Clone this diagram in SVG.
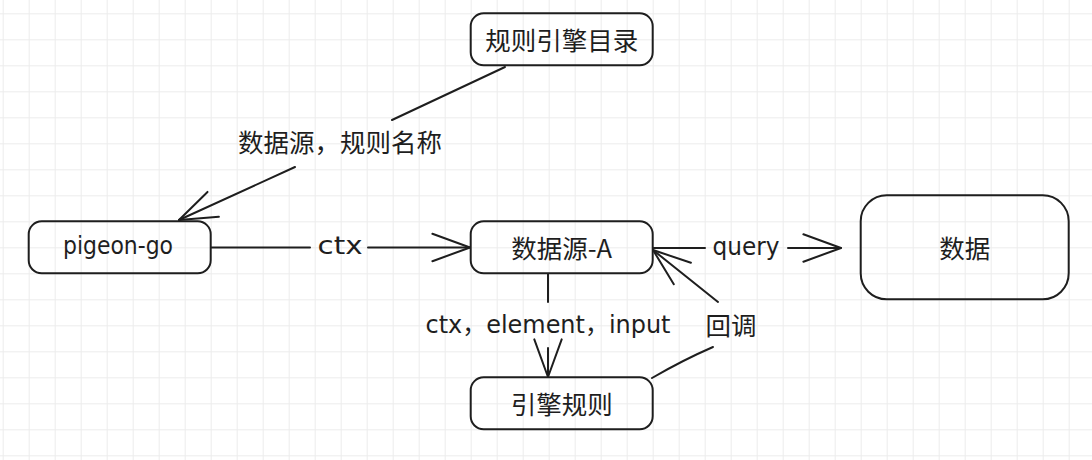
<svg xmlns="http://www.w3.org/2000/svg" width="1092" height="460" viewBox="0 0 1092 460">
<style>
.box{fill:none;stroke:#1e1e1e;stroke-width:2}
.edge{fill:none;stroke:#1e1e1e;stroke-width:2;stroke-linecap:round}
.cjk{font-family:"Noto Sans CJK SC","Noto Sans",sans-serif;font-size:25.5px;fill:#1e1e1e;text-anchor:middle;dominant-baseline:central}
.hand{font-family:"DejaVu Sans","Noto Sans CJK SC",sans-serif;font-size:24px;fill:#1e1e1e;text-anchor:middle;dominant-baseline:central}
</style>
<defs>
<pattern id="grid" patternUnits="userSpaceOnUse" x="2.7" y="13.3" width="26" height="26">
<path d="M0,0.5 H26 M0.5,0 V26" fill="none" stroke="#ececec" stroke-width="1"/>
</pattern>
<marker id="ah" markerUnits="userSpaceOnUse" viewBox="-45 -20 50 40" markerWidth="50" markerHeight="40" refX="0" refY="0" orient="auto" overflow="visible">
<path d="M-37.6,-13.7 L0,0 L-37.6,13.7" fill="none" stroke="#1e1e1e" stroke-width="2" stroke-linecap="round" stroke-linejoin="round"/>
</marker>
</defs>
<rect width="1092" height="460" fill="#ffffff"/>
<rect width="1092" height="460" fill="url(#grid)"/>

<g id="connectors">
<g id="e-catalog-pigeon">
<path class="edge" d="M505,67 L392,120"/>
<path class="edge" d="M295,167 L179,220" marker-end="url(#ah)"/>
<text class="cjk" x="340" y="140">数据源，规则名称</text>
</g>
<g id="e-pigeon-source">
<path class="edge" d="M211,247.5 L310,247.5"/>
<path class="edge" d="M368,247.5 L470,247.5" marker-end="url(#ah)"/>
<text class="hand" x="340" y="246" textLength="45" lengthAdjust="spacingAndGlyphs">ctx</text>
</g>
<g id="e-source-data">
<path class="edge" d="M653,248 L705,248"/>
<path class="edge" d="M788,248 L841,248" marker-end="url(#ah)"/>
<text class="hand" x="746" y="247" textLength="67" lengthAdjust="spacingAndGlyphs">query</text>
</g>
<g id="e-source-rule">
<path class="edge" d="M548,274 L548,302"/>
<path class="edge" d="M548,348 L548,377" marker-end="url(#ah)"/>
<text class="hand" x="548" y="325" textLength="245" lengthAdjust="spacingAndGlyphs">ctx，element，input</text>
</g>
<g id="e-rule-source">
<path class="edge" d="M652,378 Q683,360 713,347"/>
<path class="edge" d="M718,302 L653,250" marker-end="url(#ah)"/>
<text class="cjk" x="731" y="323">回调</text>
</g>
</g>

<g id="node-catalog">
<rect class="box" x="470.7" y="13.3" width="182" height="52" rx="13"/>
<text class="cjk" x="561.7" y="38.5">规则引擎目录</text>
</g>
<g id="node-pigeon">
<rect class="box" x="28.7" y="221.3" width="182" height="52" rx="13"/>
<text class="hand" x="118" y="246" textLength="110" lengthAdjust="spacingAndGlyphs">pigeon-go</text>
</g>
<g id="node-source">
<rect class="box" x="470.7" y="221.3" width="182" height="52" rx="13"/>
<text class="cjk" x="561.7" y="246.5">数据源-A</text>
</g>
<g id="node-rule">
<rect class="box" x="470.7" y="377.3" width="182" height="52" rx="13"/>
<text class="cjk" x="561.7" y="402.5">引擎规则</text>
</g>
<g id="node-data">
<rect class="box" x="860.7" y="195.3" width="208" height="104" rx="26"/>
<text class="cjk" x="964.7" y="246.5">数据</text>
</g>
</svg>
